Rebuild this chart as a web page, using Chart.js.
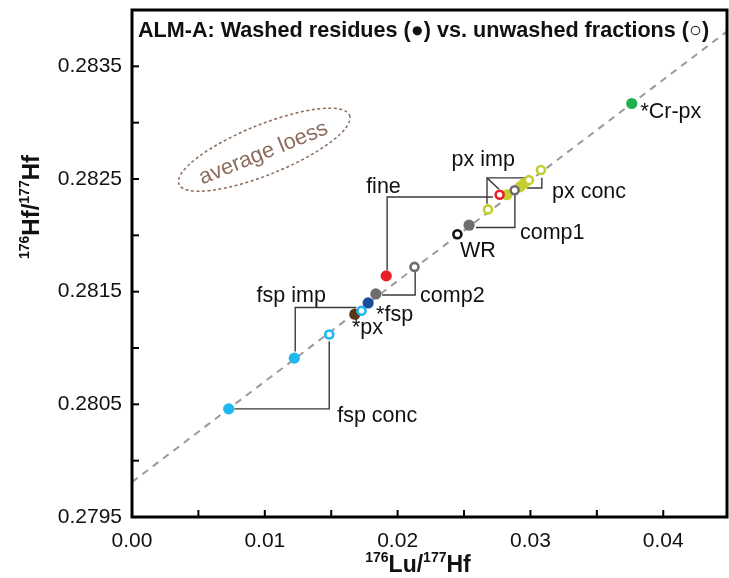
<!DOCTYPE html>
<html>
<head>
<meta charset="utf-8">
<script src="https://cdn.jsdelivr.net/npm/chart.js@4.4.0/dist/chart.umd.min.js"></script>
<style>
  body { margin: 0; background: #fff; }
</style>
</head>
<body>
<canvas id="chart" width="729" height="578"></canvas>
<script>
// Washed residues (filled symbols)
const washedNames = ["fsp conc", "fsp imp", "*px", "*fsp", "comp2", "fine", "comp1", "px imp", "px conc", "px conc", "*Cr-px"];
const washedLu = [0.00728, 0.01222, 0.01678, 0.01778, 0.01836, 0.01914, 0.02538, 0.02823, 0.02921, 0.02951, 0.03763];
const washedHf = [0.28046, 0.28091, 0.28130, 0.28140, 0.28148, 0.28164, 0.28209, 0.28236, 0.28243, 0.28246, 0.28317];

// Unwashed fractions (open symbols)
const unwashedNames = ["fsp conc", "fsp imp", "comp2", "WR", "px imp", "fine", "comp1", "px conc", "px conc"];
const unwashedLu = [0.01485, 0.01728, 0.02127, 0.02450, 0.02680, 0.02768, 0.02881, 0.02989, 0.03079];
const unwashedHf = [0.28112, 0.28133, 0.28172, 0.28201, 0.28223, 0.28236, 0.28240, 0.28249, 0.28258];

// Reference line end points
const lineLu = [0, 0.0448];
const lineHf = [0.27981, 0.28381];

// Axis ticks
const xTicks = [0.00, 0.01, 0.02, 0.03, 0.04];
const yTicks = [0.2795, 0.2805, 0.2815, 0.2825, 0.2835];

// colours by fraction name
const colorOf = {
    "fsp conc": "#1cb8ef", "fsp imp": "#1cb8ef", "*px": "#5b3613", "*fsp": "#1c4e9e",
    "comp2": "#6b6d6f", "comp1": "#6b6d6f", "fine": "#ea1e28", "px imp": "#c4cf2f",
    "px conc": "#c4cf2f", "*Cr-px": "#22b04b", "WR": "#111111"
};

const FONT = "'Liberation Sans', Arial, sans-serif";

// Leader lines, in data units
const leaders = [
    [[0.01921, 0.28169], [0.01921, 0.28234], [0.02718, 0.28234]],          // fine
    [[0.02673, 0.28228], [0.02673, 0.28251], [0.02989, 0.28251]],          // px imp
    [[0.02673, 0.28251], [0.02763, 0.28241]],
    [[0.02974, 0.28242], [0.03086, 0.28242], [0.03086, 0.28251]],          // px conc
    [[0.02883, 0.28239], [0.02883, 0.28207], [0.02590, 0.28207]],          // comp1
    [[0.01883, 0.28147], [0.02132, 0.28147], [0.02132, 0.28168]],          // comp2
    [[0.01229, 0.28097], [0.01229, 0.28136], [0.01688, 0.28136]],          // fsp imp
    [[0.00771, 0.28046], [0.01485, 0.28046], [0.01485, 0.28106]]           // fsp conc
];

// Text labels: [text, x, y] (left / middle anchored)
const notes = [
    ["fine", 0.01763, 0.28243],
    ["px imp", 0.02406, 0.28267],
    ["px conc", 0.03162, 0.28238],
    ["comp1", 0.02921, 0.28202],
    ["WR", 0.02470, 0.28186],
    ["comp2", 0.02169, 0.28146],
    ["*fsp", 0.01838, 0.28129],
    ["*px", 0.01656, 0.28118],
    ["fsp imp", 0.00938, 0.28146],
    ["fsp conc", 0.01545, 0.28040],
    ["*Cr-px", 0.03828, 0.28309]
];

function pts(xs, ys) {
    return xs.map((x, i) => ({ x: x, y: ys[i] }));
}

// draw text with superscript parts, parts = [[text, isSup], ...]
function supText(ctx, parts, cx, cy, size) {
    let w = 0;
    parts.forEach(p => {
        ctx.font = "bold " + (p[1] ? Math.round(size * 0.6) : size) + "px " + FONT;
        w += ctx.measureText(p[0]).width;
    });
    let x = cx - w / 2;
    ctx.textAlign = "left";
    ctx.textBaseline = "alphabetic";
    parts.forEach(p => {
        ctx.font = "bold " + (p[1] ? Math.round(size * 0.6) : size) + "px " + FONT;
        ctx.fillText(p[0], x, p[1] ? cy - size * 0.42 : cy);
        x += ctx.measureText(p[0]).width;
    });
}

const annotations = {
    id: "annotations",
    beforeDatasetsDraw(chart) {
        let ctx = chart.ctx;
        let xs = chart.scales.x, ys = chart.scales.y;
        ctx.save();
        // leader lines
        ctx.strokeStyle = "#3a3a3a";
        ctx.lineWidth = 1.4;
        leaders.forEach(l => {
            ctx.beginPath();
            l.forEach((p, i) => {
                let px = xs.getPixelForValue(p[0]), py = ys.getPixelForValue(p[1]);
                if (i === 0) ctx.moveTo(px, py); else ctx.lineTo(px, py);
            });
            ctx.stroke();
        });
        // average loess ellipse
        let ex = xs.getPixelForValue(0.00996), ey = ys.getPixelForValue(0.28276);
        ctx.translate(ex, ey);
        ctx.rotate(-22 * Math.PI / 180);
        ctx.strokeStyle = "#8c6d5c";
        ctx.lineWidth = 1.5;
        ctx.setLineDash([3, 2.5]);
        ctx.beginPath();
        ctx.ellipse(0, 0, 92, 25, 0, 0, Math.PI * 2);
        ctx.stroke();
        ctx.setLineDash([]);
        ctx.fillStyle = "#8c6d5c";
        ctx.font = "22px " + FONT;
        ctx.textAlign = "center";
        ctx.textBaseline = "middle";
        ctx.fillText("average loess", -2, 3);
        ctx.restore();
    },
    afterDraw(chart) {
        let ctx = chart.ctx;
        let a = chart.chartArea;
        let xs = chart.scales.x, ys = chart.scales.y;
        ctx.save();
        // labels
        ctx.fillStyle = "#111";
        ctx.font = "21.5px " + FONT;
        ctx.textAlign = "left";
        ctx.textBaseline = "middle";
        notes.forEach(n => {
            ctx.fillText(n[0], xs.getPixelForValue(n[1]), ys.getPixelForValue(n[2]));
        });
        // title
        ctx.font = "bold 21.6px " + FONT;
        ctx.fillText("ALM-A: Washed residues (\u25CF) vs. unwashed fractions (\u25CB)", a.left + 6, 31);
        // frame
        ctx.strokeStyle = "#000";
        ctx.lineWidth = 3;
        ctx.strokeRect(a.left, a.top, a.right - a.left, a.bottom - a.top);
        // inward ticks
        ctx.lineWidth = 2;
        for (let i = 1; i <= 8; i++) {
            let px = xs.getPixelForValue(i * 0.005);
            ctx.beginPath(); ctx.moveTo(px, a.bottom); ctx.lineTo(px, a.bottom - 7); ctx.stroke();
        }
        for (let i = 1; i <= 8; i++) {
            let py = ys.getPixelForValue(0.2795 + i * 0.0005);
            ctx.beginPath(); ctx.moveTo(a.left, py); ctx.lineTo(a.left + 7, py); ctx.stroke();
        }
        // axis titles
        ctx.fillStyle = "#111";
        supText(ctx, [["176", true], ["Lu/", false], ["177", true], ["Hf", false]], 418, 572, 23);
        ctx.translate(39, 207);
        ctx.rotate(-Math.PI / 2);
        supText(ctx, [["176", true], ["Hf/", false], ["177", true], ["Hf", false]], 0, 0, 24);
        ctx.restore();
    }
};

new Chart(document.getElementById("chart"), {
    type: "scatter",
    data: {
        datasets: [
            {
                label: "unwashed",
                data: pts(unwashedLu, unwashedHf),
                pointRadius: 4,
                borderWidth: 2.6,
                backgroundColor: "#fff",
                borderColor: unwashedNames.map(n => colorOf[n]),
                order: 1
            },
            {
                label: "washed",
                data: pts(washedLu, washedHf),
                pointRadius: 5.6,
                borderWidth: 0,
                backgroundColor: washedNames.map(n => colorOf[n]),
                order: 2
            },
            {
                label: "trend",
                type: "line",
                data: pts(lineLu, lineHf),
                borderColor: "#9a9a9a",
                borderWidth: 2,
                borderDash: [7, 6],
                pointRadius: 0,
                order: 3
            }
        ]
    },
    options: {
        responsive: false,
        animation: false,
        layout: { autoPadding: false, padding: { top: 10, right: 2, left: 0, bottom: 0 } },
        plugins: { legend: { display: false }, tooltip: { enabled: false } },
        scales: {
            x: {
                type: "linear",
                min: 0,
                max: 0.0448,
                afterBuildTicks: s => { s.ticks = xTicks.map(v => ({ value: v })); },
                afterFit: s => { s.height = 61; s.paddingLeft = 0; s.paddingRight = 0; },
                grid: { display: false, drawTicks: false },
                border: { display: false },
                ticks: {
                    autoSkip: false,
                    maxRotation: 0,
                    padding: 12,
                    color: "#111",
                    font: { family: FONT, size: 21 },
                    callback: v => v.toFixed(2)
                }
            },
            y: {
                type: "linear",
                min: 0.2795,
                max: 0.2840,
                afterBuildTicks: s => { s.ticks = yTicks.map(v => ({ value: v })); },
                afterFit: s => { s.width = 132; s.paddingTop = 0; s.paddingBottom = 0; },
                grid: { display: false, drawTicks: false },
                border: { display: false },
                ticks: {
                    autoSkip: false,
                    padding: 10,
                    color: "#111",
                    font: { family: FONT, size: 21 },
                    callback: v => v.toFixed(4)
                }
            }
        }
    },
    plugins: [annotations]
});
</script>
</body>
</html>
